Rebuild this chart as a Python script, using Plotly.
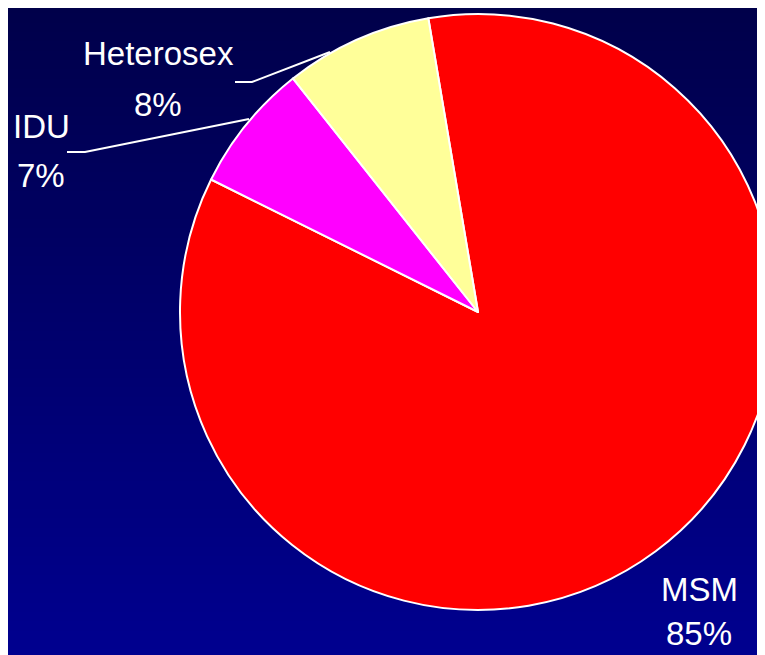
import plotly.graph_objects as go

# slice data (clockwise from the top-left edge)
labels = ["MSM", "IDU", "Heterosex"]
shares = [85, 7, 8]
slice_colors = ["#FF0000", "#FF00FF", "#FFFF99"]

# label text shown next to the pie
label_lines = [("Heterosex", "8%"), ("IDU", "7%"), ("MSM", "85%")]

# the page body adds an 8px margin, so axis coords are window pixels
OFF = 8
W, H = 780, 655
font_family = "Liberation Sans, Arial, sans-serif"

fig = go.Figure()

# dark navy -> blue vertical gradient as a background heatmap
fig.add_trace(go.Heatmap(
    z=[[0, 0], [1, 1]],
    x=[OFF, OFF + W],
    y=[OFF, OFF + H],
    zsmooth="best",
    colorscale=[[0, "#00004A"], [1, "#000090"]],
    showscale=False,
    hoverinfo="skip",
))

# pie placed so its centre sits at (478, 312) with radius 298 in window px
fig.add_trace(go.Pie(
    labels=labels,
    values=shares,
    sort=False,
    direction="clockwise",
    rotation=-9.6,
    marker=dict(colors=slice_colors, line=dict(color="white", width=2)),
    textinfo="none",
    hoverinfo="label+percent",
    showlegend=False,
    domain=dict(x=[(180 - OFF) / W, (776 - OFF) / W],
                y=[(H - (610 - OFF)) / H, (H - (14 - OFF)) / H]),
))

# text positions (window px)
text_pos = {
    "Heterosex": [(158, 53), (158, 104)],
    "IDU": [(41, 126), (41, 175)],
    "MSM": [(699, 589), (699, 633)],
}
for name, pct in label_lines:
    for txt, (tx, ty) in zip((name, pct), text_pos[name]):
        fig.add_annotation(
            x=tx, y=ty, xref="x", yref="y", text=txt, showarrow=False,
            font=dict(family=font_family, size=33, color="white"),
            xanchor="center", yanchor="middle",
        )

# leader lines
leaders = [
    [(235, 82), (252, 82), (330, 52)],
    [(67, 152), (85, 152), (249, 119)],
]
for pts in leaders:
    path = "M " + " L ".join(f"{px},{py}" for px, py in pts)
    fig.add_shape(type="path", path=path, xref="x", yref="y",
                  line=dict(color="white", width=2))

fig.update_xaxes(range=[OFF, OFF + W], visible=False, fixedrange=True)
fig.update_yaxes(range=[OFF + H, OFF], visible=False, fixedrange=True)

fig.update_layout(
    width=W,
    height=H,
    autosize=False,
    margin=dict(t=0, b=0, l=0, r=0),
    paper_bgcolor="#000060",
    plot_bgcolor="#000060",
)

fig.write_html("out.html")
